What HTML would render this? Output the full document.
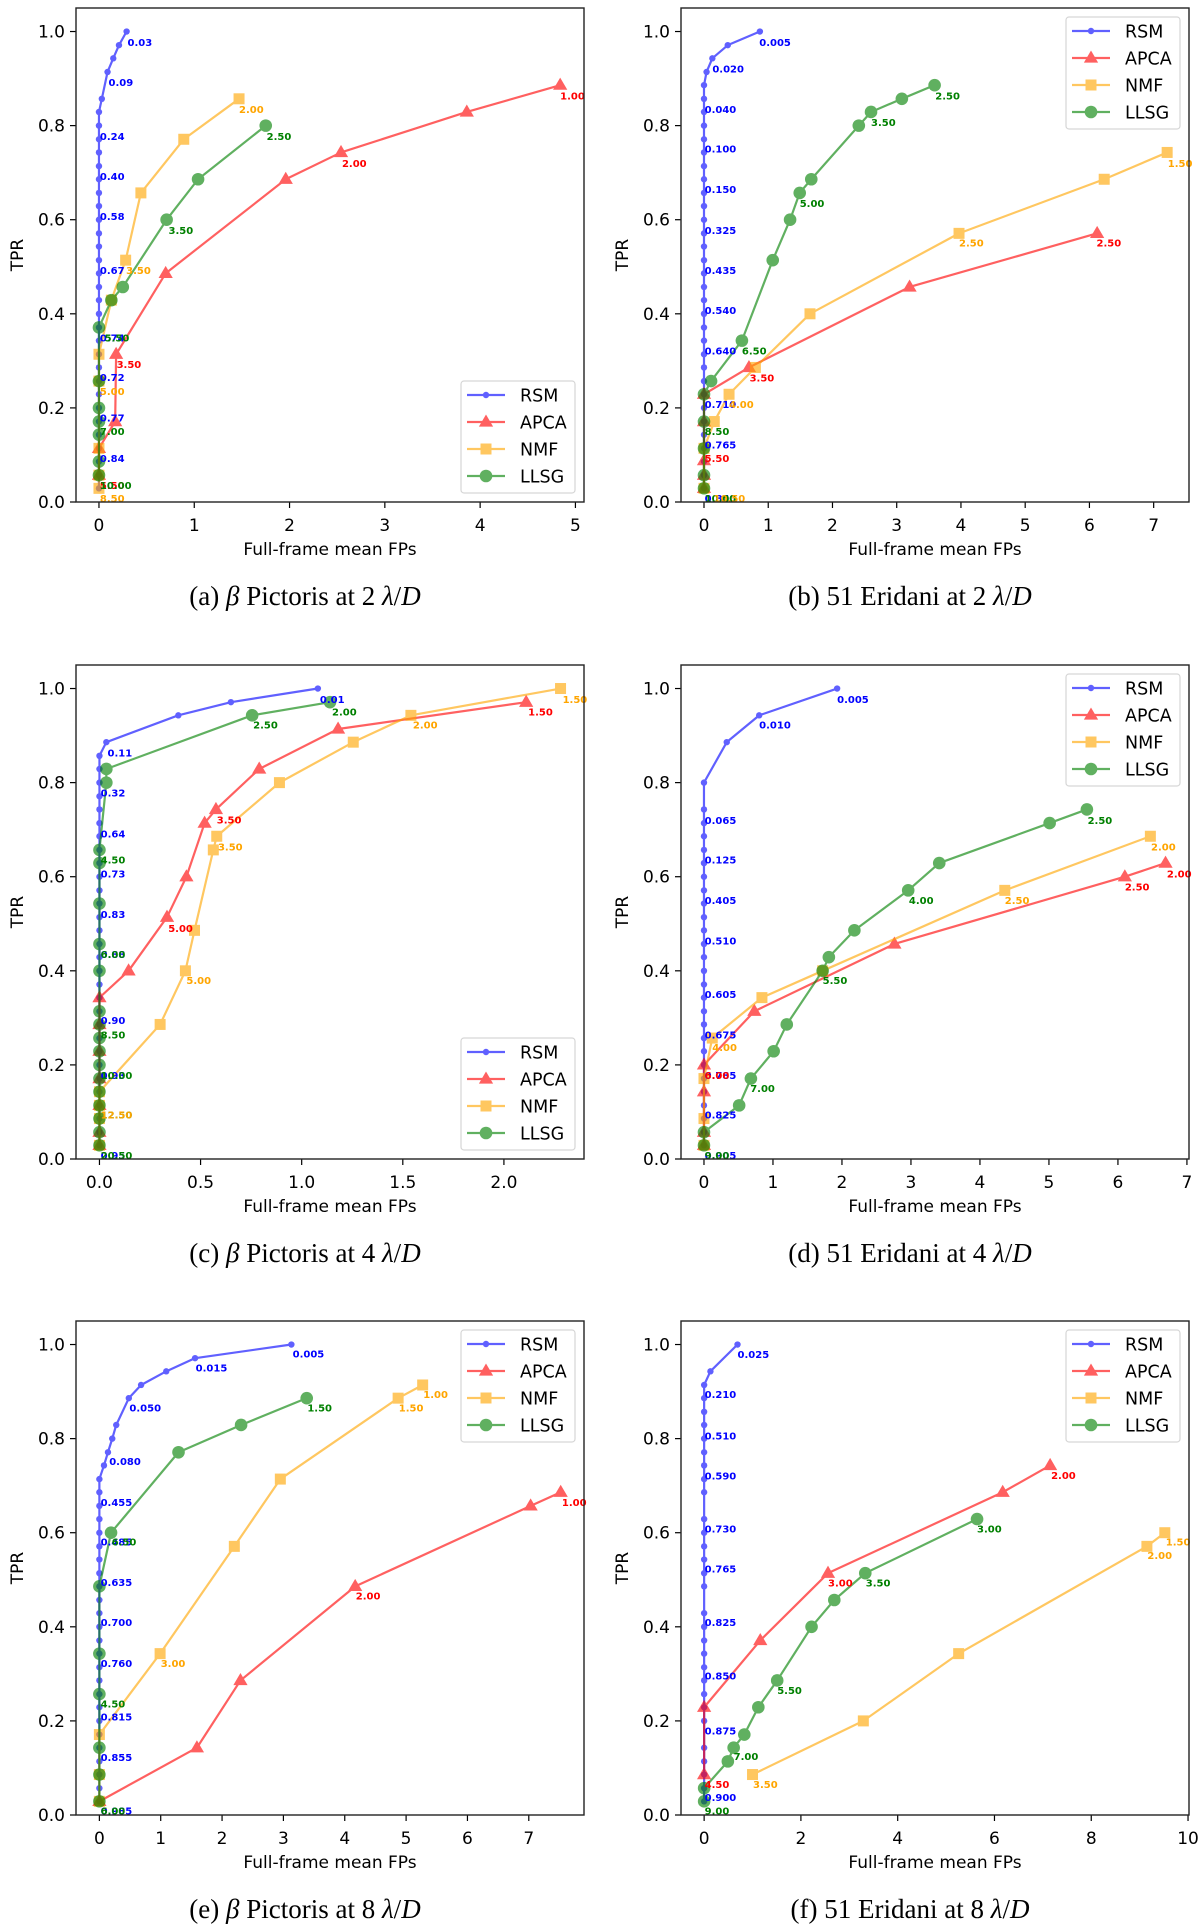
<!DOCTYPE html>
<html><head><meta charset="utf-8"><title>ROC curves</title>
<style>
html,body{margin:0;padding:0;background:#fff;}
svg{display:block;}
.tick{font-family:"DejaVu Sans","Liberation Sans",sans-serif;font-size:17px;fill:#000;}
.axl{font-family:"DejaVu Sans","Liberation Sans",sans-serif;font-size:17px;fill:#000;}
.ann{font-family:"DejaVu Sans","Liberation Sans",sans-serif;font-size:10px;font-weight:bold;}
.cap{font-family:"Liberation Serif",serif;font-size:27px;fill:#000;}
.leg{font-family:"DejaVu Sans","Liberation Sans",sans-serif;font-size:17.5px;fill:#000;}
</style></head>
<body>
<svg id="fig" xmlns="http://www.w3.org/2000/svg" width="1200" height="1928" viewBox="0 0 1200 1928"></svg>
<script>
const SERIES_NAMES = ["RSM","APCA","NMF","LLSG"];
const X_TICKS_A = [0,1,2,3,4,5];
const X_TICKS_B = [0,1,2,3,4,5,6,7];
const X_TICKS_C = [0,0.5,1,1.5,2];
const X_TICKS_D = [0,1,2,3,4,5,6,7];
const X_TICKS_E = [0,1,2,3,4,5,6,7];
const X_TICKS_F = [0,2,4,6,8,10];
const Y_TICKS = [0,0.2,0.4,0.6,0.8,1.0];

const A_RSM = [[0,.029],[0,.057],[0,.086],[0,.114],[0,.143],[0,.171],[0,.2],[0,.229],[0,.257],[0,.286],[0,.314],[0,.343],[0,.371],[0,.4],[0,.429],[0,.457],[0,.486],[0,.514],[0,.543],[0,.571],[0,.6],[0,.629],[0,.657],[0,.686],[0,.714],[0,.743],[0,.771],[0,.8],[0,.829],[.03,.857],[.09,.914],[.15,.943],[.21,.971],[.29,1]];
const A_APCA = [[0,.057],[0,.114],[.17,.171],[.18,.314],[.7,.486],[1.96,.686],[2.54,.743],[3.86,.829],[4.84,.886]];
const A_NMF = [[0,.029],[0,.057],[0,.114],[0,.257],[0,.314],[.13,.429],[.28,.514],[.44,.657],[.89,.771],[1.47,.857]];
const A_LLSG = [[0,.057],[0,.086],[0,.143],[0,.171],[0,.2],[0,.257],[0,.371],[.13,.429],[.25,.457],[.71,.6],[1.04,.686],[1.75,.8]];
const A_LABELS = [["0.03",.30,.977,0],["0.09",.10,.892,0],["0.24",.01,.777,0],["0.40",.01,.692,0],["0.58",.01,.607,0],["0.67",.01,.492,0],["0.74",.01,.349,0],["0.72",.01,.265,0],["0.77",.01,.179,0],["0.84",.01,.092,0],
 ["3.50",.285,.492,2],["5.00",.01,.235,2],["8.50",.01,.007,2],["2.00",1.47,.834,2],
 ["1.00",4.84,.863,1],["2.00",2.55,.72,1],["3.50",.185,.292,1],["5.50",.01,.035,1],
 ["2.50",1.76,.777,3],["3.50",.73,.577,3],["5.50",.06,.349,3],["7.00",.01,.15,3],["10.00",.01,.035,3]];

const B_RSM = [[0,.029],[0,.057],[0,.086],[0,.114],[0,.143],[0,.171],[0,.2],[0,.229],[0,.257],[0,.286],[0,.314],[0,.343],[0,.371],[0,.4],[0,.429],[0,.457],[0,.486],[0,.514],[0,.543],[0,.571],[0,.6],[0,.629],[0,.657],[0,.686],[0,.714],[0,.743],[0,.771],[0,.8],[0,.829],[0,.857],[0,.886],[.04,.914],[.13,.943],[.37,.971],[.87,1]];
const B_APCA = [[0,.029],[0,.057],[0,.088],[0,.171],[0,.229],[.70,.286],[3.2,.457],[6.12,.571]];
const B_NMF = [[0,.029],[0,.114],[.16,.171],[.39,.229],[.80,.286],[1.65,.4],[3.97,.571],[6.23,.686],[7.21,.743]];
const B_LLSG = [[0,.029],[0,.057],[0,.114],[0,.171],[0,.229],[.11,.257],[.59,.343],[1.07,.514],[1.34,.6],[1.49,.657],[1.67,.686],[2.41,.8],[2.6,.829],[3.08,.857],[3.59,.886]];
const B_LABELS = [["0.005",.86,.977,0],["0.020",.13,.92,0],["0.040",.01,.834,0],["0.100",.01,.75,0],["0.150",.01,.664,0],["0.325",.01,.577,0],["0.435",.01,.492,0],["0.540",.01,.407,0],["0.640",.01,.321,0],["0.710",.01,.207,0],["0.765",.01,.121,0],["0.850",.01,.007,0],
 ["2.50",3.6,.863,3],["3.50",2.6,.807,3],["5.00",1.49,.634,3],["6.50",.59,.321,3],["8.50",.01,.15,3],["10.00",.01,.007,3],
 ["3.50",.71,.264,1],["2.50",6.11,.55,1],["5.50",.01,.092,1],
 ["2.50",3.97,.55,2],["1.50",7.22,.72,2],["4.00",.39,.207,2],["10.50",.15,.007,2]];

const C_RSM = [[0,.029],[0,.057],[0,.086],[0,.114],[0,.143],[0,.171],[0,.2],[0,.229],[0,.257],[0,.286],[0,.314],[0,.343],[0,.371],[0,.4],[0,.429],[0,.457],[0,.486],[0,.514],[0,.543],[0,.571],[0,.6],[0,.629],[0,.657],[0,.686],[0,.714],[0,.743],[0,.771],[0,.8],[0,.829],[0,.857],[.034,.886],[.39,.943],[.65,.971],[1.08,1]];
const C_APCA = [[0,.029],[0,.057],[0,.114],[0,.171],[0,.229],[0,.286],[0,.343],[.144,.4],[.334,.514],[.43,.6],[.52,.714],[.576,.743],[.79,.829],[1.18,.914],[2.11,.971]];
const C_NMF = [[0,.029],[0,.086],[0,.114],[0,.143],[.30,.286],[.425,.4],[.47,.486],[.563,.657],[.58,.686],[.89,.8],[1.255,.886],[1.54,.943],[2.28,1]];
const C_LLSG = [[0,.029],[0,.057],[0,.086],[0,.114],[0,.143],[0,.171],[0,.2],[0,.229],[0,.257],[0,.286],[0,.314],[0,.4],[0,.457],[0,.543],[0,.629],[0,.657],[.034,.8],[.034,.829],[.755,.943],[1.14,.971]];
const C_LABELS = [["0.01",1.09,.977,0],["0.11",.04,.863,0],["0.32",.006,.778,0],["0.64",.006,.691,0],["0.73",.006,.606,0],["0.83",.006,.52,0],["0.88",.006,.435,0],["0.90",.006,.294,0],["0.93",.006,.178,0],["0.95",.006,.007,0],
 ["2.00",1.15,.95,3],["2.50",.76,.922,3],["4.50",.006,.636,3],["6.00",.006,.435,3],["8.50",.006,.264,3],["10.00",.006,.178,3],["12.50",.006,.093,3],["20.50",.006,.007,3],
 ["3.50",.58,.721,1],["5.00",.34,.49,1],["1.50",2.12,.95,1],
 ["1.50",2.29,.977,2],["2.00",1.55,.922,2],["3.50",.586,.663,2],["5.00",.43,.379,2],["12.50",.006,.093,2]];

const D_RSM = [[0,.029],[0,.057],[0,.086],[0,.114],[0,.143],[0,.171],[0,.2],[0,.229],[0,.257],[0,.286],[0,.314],[0,.343],[0,.371],[0,.4],[0,.429],[0,.457],[0,.486],[0,.514],[0,.543],[0,.571],[0,.6],[0,.629],[0,.657],[0,.686],[0,.714],[0,.743],[0,.8],[.33,.886],[.8,.943],[1.93,1]];
const D_APCA = [[0,.029],[0,.057],[0,.143],[0,.2],[.73,.314],[2.76,.457],[6.1,.6],[6.69,.629]];
const D_NMF = [[0,.029],[0,.086],[0,.171],[.12,.257],[.84,.343],[1.72,.4],[4.36,.571],[6.47,.686]];
const D_LLSG = [[0,.029],[0,.057],[.51,.114],[.68,.171],[1.01,.229],[1.2,.286],[1.72,.4],[1.81,.429],[2.18,.486],[2.96,.571],[3.41,.629],[5.01,.714],[5.55,.743]];
const D_LABELS = [["0.005",1.93,.977,0],["0.010",.8,.922,0],["0.065",.01,.72,0],["0.125",.01,.636,0],["0.405",.01,.549,0],["0.510",.01,.463,0],["0.605",.01,.35,0],["0.675",.01,.264,0],["0.785",.01,.178,0],["0.825",.01,.093,0],["0.905",.01,.007,0],
 ["2.50",5.56,.72,3],["4.00",2.97,.549,3],["5.50",1.72,.379,3],["7.00",.67,.15,3],["9.00",.01,.007,3],
 ["2.00",6.48,.663,2],["2.50",4.36,.549,2],["4.00",.12,.237,2],
 ["2.00",6.71,.606,1],["2.50",6.1,.578,1],["6.00",.01,.178,1]];

const E_RSM = [[0,.029],[0,.057],[0,.086],[0,.114],[0,.143],[0,.171],[0,.2],[0,.229],[0,.257],[0,.286],[0,.314],[0,.343],[0,.371],[0,.4],[0,.429],[0,.457],[0,.486],[0,.514],[0,.543],[0,.571],[0,.6],[0,.629],[0,.657],[0,.686],[0,.714],[.075,.743],[.14,.771],[.21,.8],[.275,.829],[.48,.886],[.68,.914],[1.09,.943],[1.56,.971],[3.13,1]];
const E_APCA = [[0,.029],[1.59,.143],[2.3,.286],[4.17,.486],[7.03,.657],[7.52,.686]];
const E_NMF = [[0,.029],[0,.086],[0,.171],[.99,.343],[2.2,.571],[2.95,.714],[4.87,.886],[5.27,.914]];
const E_LLSG = [[0,.029],[0,.086],[0,.143],[0,.257],[0,.343],[0,.486],[.19,.6],[1.29,.771],[2.31,.829],[3.38,.886]];
const E_LABELS = [["0.005",3.15,.98,0],["0.015",1.57,.95,0],["0.050",.49,.865,0],["0.080",.16,.751,0],["0.455",.02,.664,0],["0.485",.02,.58,0],["0.635",.02,.494,0],["0.700",.02,.409,0],["0.760",.02,.322,0],["0.815",.02,.208,0],["0.855",.02,.122,0],["0.985",.02,.009,0],
 ["1.50",3.39,.865,3],["6.50",.2,.58,3],["4.50",.02,.236,3],["6.00",.02,.009,3],
 ["1.00",5.28,.894,2],["1.50",4.88,.865,2],["3.00",1.0,.322,2],
 ["1.00",7.54,.664,1],["2.00",4.18,.465,1]];

const F_RSM = [[0,.029],[0,.057],[0,.086],[0,.114],[0,.143],[0,.2],[0,.229],[0,.257],[0,.286],[0,.314],[0,.343],[0,.371],[0,.4],[0,.429],[0,.486],[0,.514],[0,.543],[0,.571],[0,.6],[0,.629],[0,.686],[0,.714],[0,.743],[0,.771],[0,.8],[0,.829],[0,.857],[0,.886],[0,.914],[.13,.943],[.69,1]];
const F_APCA = [[0,.086],[0,.229],[1.16,.371],[2.56,.514],[6.17,.686],[7.15,.743]];
const F_NMF = [[1.0,.086],[3.29,.2],[5.26,.343],[9.15,.571],[9.52,.6]];
const F_LLSG = [[0,.029],[0,.057],[.49,.114],[.61,.143],[.83,.171],[1.12,.229],[1.51,.286],[2.22,.4],[2.69,.457],[3.33,.514],[5.64,.629]];
const F_LABELS = [["0.025",.69,.979,0],["0.210",.01,.894,0],["0.510",.01,.806,0],["0.590",.01,.721,0],["0.730",.01,.608,0],["0.765",.01,.523,0],["0.825",.01,.409,0],["0.850",.01,.295,0],["0.875",.01,.179,0],["0.900",.01,.037,0],
 ["2.00",7.17,.722,1],["3.00",2.56,.493,1],["4.50",.01,.065,1],
 ["3.00",5.64,.608,3],["3.50",3.34,.493,3],["5.50",1.51,.265,3],["7.00",.61,.124,3],["9.00",.01,.009,3],
 ["1.50",9.54,.58,2],["2.00",9.16,.552,2],["3.50",1.01,.065,2]];

const NS = "http://www.w3.org/2000/svg";
const svg = document.getElementById("fig");
const LINE_COL = ["#0000ff","#ff0000","#ffa500","#008000"];
const TXT_COL = ["#0000ff","#ff0000","#ffa500","#008000"];

function mk(tag, attrs, parent){
  const e = document.createElementNS(NS, tag);
  for (const k in attrs) e.setAttribute(k, attrs[k]);
  (parent||svg).appendChild(e);
  return e;
}

function marker(g, k, cx, cy, col){
  let m;
  if (k===0){ m = mk("circle",{cx:cx,cy:cy,r:3.2,fill:col},g); }
  else if (k===1){ const s=7.5; m = mk("polygon",{points:`${cx},${cy-s} ${cx-s*0.95},${cy+s*0.62} ${cx+s*0.95},${cy+s*0.62}`,fill:col},g); }
  else if (k===2){ m = mk("rect",{x:cx-5.5,y:cy-5.5,width:11,height:11,fill:col},g); }
  else { m = mk("circle",{cx:cx,cy:cy,r:6.3,fill:col},g); }
  return m;
}

function panel(id, L, T, xmin, xmax, xticks, fmt, series, labels, legendPos, capX, capLetter, capStar, capN){
  const W = 508, H = 494, YMAX = 1.05;
  const sx = v => L + (v - xmin)/(xmax - xmin)*W;
  const sy = v => T + H - v/YMAX*H;
  const g = mk("g",{});
  
  

  const yt = mk("g",{},g);
  
  
  Y_TICKS.forEach(v=>{
    const y = sy(v);
    mk("line",{x1:L-6,x2:L,y1:y,y2:y,stroke:"#000","stroke-width":1.2},yt);
    const t = mk("text",{x:L-11,y:y+6,"text-anchor":"end",class:"tick"},yt);
    t.textContent = v.toFixed(1);
    
    
  });
  const xt = mk("g",{},g);
  
  
  xticks.forEach(v=>{
    const x = sx(v);
    mk("line",{x1:x,x2:x,y1:T+H,y2:T+H+6,stroke:"#000","stroke-width":1.2},xt);
    const t = mk("text",{x:x,y:T+H+29,"text-anchor":"middle",class:"tick"},xt);
    t.textContent = fmt(v);
    
    
  });

  const xl = mk("text",{x:L+W/2,y:T+H+53,"text-anchor":"middle",class:"axl"},g);
  xl.textContent = "Full-frame mean FPs";
  
  
  const yl = mk("text",{x:0,y:0,"text-anchor":"middle",class:"axl",transform:`translate(${L-53},${T+H/2}) rotate(-90)`},g);
  yl.textContent = "TPR";
  
  

  const cp = mk("clipPath",{id:"clip-"+id},g);
  mk("rect",{x:L,y:T-8,width:W+8,height:H+8},cp);
  const plot = mk("g",{"clip-path":`url(#clip-${id})`},g);
  
  

  series.forEach((pts, k)=>{
    const sg = mk("g",{opacity:0.62},plot);
    
    
    const pl = mk("polyline",{points:pts.map(p=>sx(p[0])+","+sy(p[1])).join(" "),fill:"none",stroke:LINE_COL[k],"stroke-width":2.2,"stroke-linejoin":"round"},sg);
    
    
    pts.forEach(p=>{
      const m = marker(sg, k, sx(p[0]), sy(p[1]), LINE_COL[k]);
      
      
    });
  });

  const lg = mk("g",{},g);
  
  
  labels.forEach(a=>{
    const t = mk("text",{x:sx(a[1]),y:sy(a[2])+3.5,class:"ann",fill:TXT_COL[a[3]]},lg);
    t.textContent = a[0];
    
    
  });

  const fr = mk("rect",{x:L,y:T,width:W,height:H,fill:"none",stroke:"#222","stroke-width":1.4},g);
  
  

  const lw = 114, lh = 112;
  const lx = L + W - 9 - lw;
  const ly = legendPos === "lower" ? T + H - 9 - lh : T + 9;
  const leg = mk("g",{},g);
  
  
  mk("rect",{x:lx,y:ly,width:lw,height:lh,rx:3,fill:"#fff","fill-opacity":0.85,stroke:"#d6d6d6","stroke-width":1.2},leg);
  SERIES_NAMES.forEach((nm,k)=>{
    const ey = ly + 14 + k*27;
    const eg = mk("g",{},leg);
    
    
    const sg = mk("g",{opacity:0.62},eg);
    mk("line",{x1:lx+6,x2:lx+44,y1:ey,y2:ey,stroke:LINE_COL[k],"stroke-width":2.2},sg);
    marker(sg, k, lx+25, ey, LINE_COL[k]);
    const t = mk("text",{x:lx+59,y:ey+6.5,class:"leg"},eg);
    t.textContent = nm;
  });

  const cap = mk("text",{x:capX,y:T+H+103,"text-anchor":"middle",class:"cap"},g);
  
  
  const s1 = mk("tspan",{},cap); s1.textContent = "(" + capLetter + ") ";
  if (capStar){ const s2 = mk("tspan",{"font-style":"italic"},cap); s2.textContent = "β"; const s3 = mk("tspan",{},cap); s3.textContent = " Pictoris at " + capN + " "; }
  else { const s3 = mk("tspan",{},cap); s3.textContent = "51 Eridani at " + capN + " "; }
  const s4 = mk("tspan",{"font-style":"italic"},cap); s4.textContent = "λ";
  const s5 = mk("tspan",{},cap); s5.textContent = "/";
  const s6 = mk("tspan",{"font-style":"italic"},cap); s6.textContent = "D";
}

const fInt = v => String(v);
const fDec = v => v.toFixed(1);
panel("a", 76, 8, -0.241, 5.09, X_TICKS_A, fInt, [A_RSM,A_APCA,A_NMF,A_LLSG], A_LABELS, "lower", 305, "a", true, "2");
panel("b", 681, 8, -0.358, 7.55, X_TICKS_B, fInt, [B_RSM,B_APCA,B_NMF,B_LLSG], B_LABELS, "upper", 910, "b", false, "2");
panel("c", 76, 665, -0.116, 2.396, X_TICKS_C, fDec, [C_RSM,C_APCA,C_NMF,C_LLSG], C_LABELS, "lower", 305, "c", true, "4");
panel("d", 681, 665, -0.333, 7.03, X_TICKS_D, fInt, [D_RSM,D_APCA,D_NMF,D_LLSG], D_LABELS, "upper", 910, "d", false, "4");
panel("e", 76, 1321, -0.381, 7.90, X_TICKS_E, fInt, [E_RSM,E_APCA,E_NMF,E_LLSG], E_LABELS, "upper", 305, "e", true, "8");
panel("f", 681, 1321, -0.478, 10.02, X_TICKS_F, fInt, [F_RSM,F_APCA,F_NMF,F_LLSG], F_LABELS, "upper", 910, "f", false, "8");
</script>
</body></html>
